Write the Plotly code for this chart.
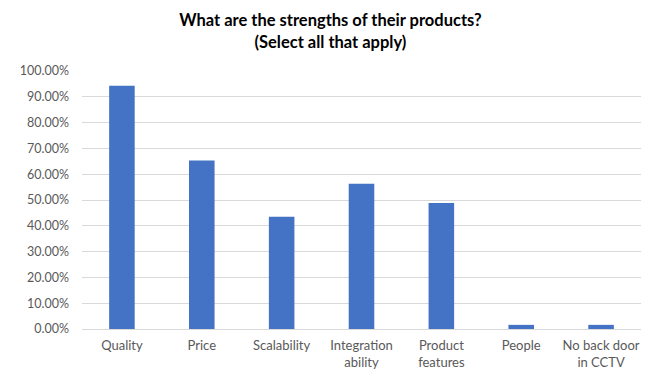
import plotly.graph_objects as go

categories = ["Quality", "Price", "Scalability", "Integration<br>ability",
              "Product<br>features", "People", "No back door<br>in CCTV"]
values = [0.943, 0.653, 0.435, 0.563, 0.488, 0.016, 0.016]
y_ticks = [i / 10 for i in range(11)]

fig = go.Figure(go.Bar(x=categories, y=values, marker_color="#4472C4",
                       marker_line_width=0))

fig.update_layout(
    width=658, height=381,
    margin=dict(l=61, r=25, t=63, b=60),
    paper_bgcolor="white", plot_bgcolor="white",
    bargap=0.68,
    font=dict(family="Lato, Open Sans, sans-serif", size=12, color="#595959"),
    title=dict(text="<b>What are the strengths of their products?<br>(Select all that apply)</b>",
               x=0.49, xanchor="center", y=0.952, yanchor="middle",
               font=dict(family="Lato, Open Sans, sans-serif", size=16.5, color="#000000")),
    showlegend=False,
)
fig.update_yaxes(range=[0, 1.0], tickvals=y_ticks, tickformat=".2%",
                 showgrid=True, gridcolor="#D9D9D9", gridwidth=1,
                 zeroline=False, showline=False, ticks="", ticklabelstandoff=12,
                 tickfont=dict(size=12.5))
fig.update_xaxes(showline=True, linecolor="#D9D9D9", linewidth=1, ticks="",
                 tickangle=0, ticklabelstandoff=4, tickfont=dict(size=13))

fig.write_html("out.html")
